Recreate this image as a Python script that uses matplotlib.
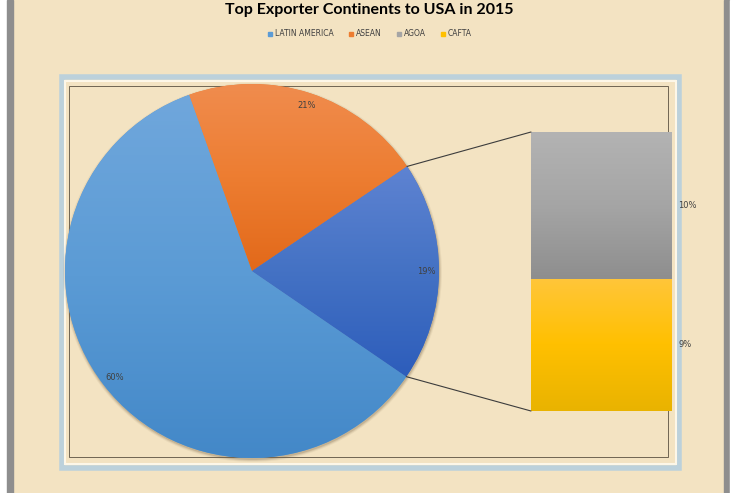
import numpy as np
import matplotlib
matplotlib.use('Agg')
import matplotlib.pyplot as plt
from matplotlib.patches import Rectangle, Circle
from matplotlib.patches import ConnectionPatch
from matplotlib.lines import Line2D
from matplotlib.colors import to_rgb

# data
pie_labels = ['LATIN AMERICA', 'ASEAN', 'Other']
bar_labels = ['AGOA', 'CAFTA']
latin_america = 60
asean = 21
agoa = 10
cafta = 9
title = 'Top Exporter Continents to USA in 2015'

W, H = 740, 493
PARCH = '#f3e3c2'
TXT = '#404040'


def grad_fill(ax, patch, colors, bbox, z):
    # vertical gradient (top -> bottom) clipped to the patch
    n = 200
    stops = np.linspace(0, 1, len(colors))
    rgb = np.array([to_rgb(c) for c in colors])
    t = np.linspace(0, 1, n)
    img = np.stack([np.interp(t, stops, rgb[:, k]) for k in range(3)], axis=1)
    img = img[:, None, :]
    im = ax.imshow(img, extent=(bbox.x0, bbox.x1, bbox.y0, bbox.y1),
                   origin='upper', aspect='auto', zorder=z, interpolation='bilinear')
    im.set_clip_path(patch)
    return im


fig = plt.figure(figsize=(W / 100, H / 100), dpi=100)
fig.patch.set_facecolor(PARCH)

ax = fig.add_axes([0, 0, 1, 1])
ax.set_xlim(0, W)
ax.set_ylim(0, H)
ax.axis('off')

# outer window frame (grey strips)
ax.add_patch(Rectangle((0, 0), 7, H, color='white', zorder=1))
ax.add_patch(Rectangle((7, 0), 6, H, color='#8e8e8e', zorder=1))
ax.add_patch(Rectangle((724, 0), 6, H, color='#8e8e8e', zorder=1))
ax.add_patch(Rectangle((730, 0), 10, H, color='white', zorder=1))

# plot area frame
ax.add_patch(Rectangle((62, H - 468), 617, 391, fill=False, ec='#b3cee0', lw=4, alpha=0.85, zorder=2))
ax.add_patch(Rectangle((65, H - 463.5), 611, 383, fill=False, ec='#fdf7e8', lw=1.5, zorder=2))
ax.add_patch(Rectangle((69, H - 457), 599, 371, fill=False, ec='#5a5040', lw=0.6, zorder=2))

# pie
cx, cy, r = 252, H - 271, 187
other = agoa + cafta
for k, a in enumerate([0.08, 0.14, 0.22]):
    ax.add_patch(Circle((cx + 0.5, cy - 1.5), r + 2.5 - k, color='#7a6448', alpha=a, lw=0, zorder=3))

wedges, texts, autotexts = ax.pie(
    [latin_america, asean, other], center=(cx, cy), radius=r,
    startangle=-34.4, counterclock=False, frame=True,
    colors=['#5b9bd5', '#ed7d31', '#4472c4'],
    autopct=lambda p: '%.0f%%' % p, pctdistance=0.93,
    textprops=dict(fontsize=6, color=TXT),
    wedgeprops=dict(lw=0))
ax.set_xlim(0, W)
ax.set_ylim(0, H)
ax.axis('off')

pie_grads = [['#70a7dc', '#5b9bd5', '#4388c8'],
             ['#f08c4e', '#ed7d31', '#e2691a'],
             ['#5e83d2', '#4472c4', '#2d5dbb']]
for w, g in zip(wedges, pie_grads):
    w.set_zorder(4)
    grad_fill(ax, w, g, w.get_path().get_extents(), 5)
for t in autotexts:
    t.set_zorder(8)

# bar of the "Other" slice
x0, x1, ytop, ybot = 531, 672, 132, 411
axb = fig.add_axes([x0 / W, (H - ybot) / H, (x1 - x0) / W, (ybot - ytop) / H])
axb.set_xlim(-0.5, 0.5)
axb.set_ylim(0, other)
axb.axis('off')
axb.patch.set_alpha(0)

bars_c = axb.bar(0, cafta, width=1, color='#ffc000', lw=0, zorder=4)[0]
bars_a = axb.bar(0, agoa, bottom=cafta, width=1, color='#a5a5a5', lw=0, zorder=4)[0]
grad_fill(axb, bars_a, ['#b3b3b3', '#a5a5a5', '#8e8e8e'], bars_a.get_bbox(), 5)
grad_fill(axb, bars_c, ['#ffc63a', '#ffc000', '#e9b300'], bars_c.get_bbox(), 5)
axb.set_xlim(-0.5, 0.5)
axb.set_ylim(0, other)

axb.text(0.545, cafta + agoa / 2, '%d%%' % agoa, fontsize=6, color=TXT,
         ha='left', va='center', clip_on=False)
axb.text(0.545, cafta / 2, '%d%%' % cafta, fontsize=6, color=TXT,
         ha='left', va='center', clip_on=False)

# connector lines
ow = wedges[2]
for th, yb in [(ow.theta2, other), (ow.theta1, 0)]:
    p = (cx + r * np.cos(np.radians(th)), cy + r * np.sin(np.radians(th)))
    con = ConnectionPatch(xyA=p, coordsA=ax.transData, xyB=(-0.5, yb),
                          coordsB=axb.transData, color='#3c3c3c', lw=0.8, zorder=6)
    fig.add_artist(con)

# title + legend
fig.text(369 / W, 1 - 10 / H, title, ha='center', va='center', fontsize=11.5,
         fontweight='bold', color='black', family=['Lato', 'DejaVu Sans'])

handles = [Line2D([], [], marker='s', ls='', ms=3.5, color=c)
           for c in ['#5b9bd5', '#ed7d31', '#a5a5a5', '#ffc000']]
fig.legend(handles, ['LATIN AMERICA', 'ASEAN', 'AGOA', 'CAFTA'], loc='center',
           bbox_to_anchor=(370 / W, 1 - 34 / H), ncol=4, frameon=False,
           fontsize=5.5, labelcolor=TXT, handlelength=0.6, handletextpad=0.3,
           columnspacing=2.0)

fig.savefig('out.png', dpi=100, facecolor=fig.get_facecolor())
